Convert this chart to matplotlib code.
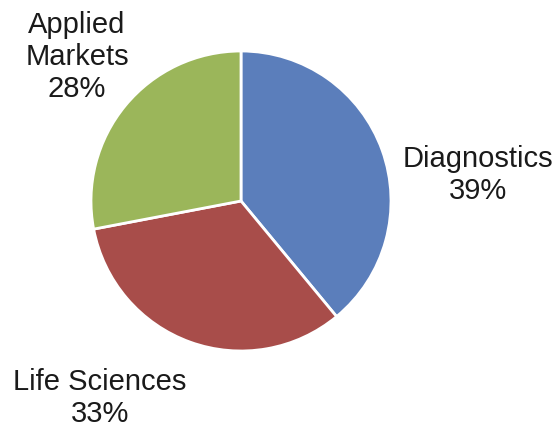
import matplotlib.pyplot as plt

# Revenue share by segment
segments = ['Diagnostics', 'Life Sciences', 'Applied Markets']
shares = [39, 33, 28]
label_text = ['Diagnostics\n39%', 'Life Sciences\n33%', 'Applied\nMarkets\n28%']
colors = ['#5B7EBB', '#A84D4A', '#9BB65A']

fig = plt.figure(figsize=(5.58, 4.27), dpi=100)
ax = fig.add_axes([0, 0, 1, 1])

ax.pie(shares, colors=colors, startangle=90, counterclock=False,
       center=(241, 225), radius=150, frame=True,
       wedgeprops=dict(edgecolor='white', linewidth=2))
ax.set_xlim(0, 558)
ax.set_ylim(0, 427)
ax.set_aspect('equal')
ax.axis('off')

# label positions in pixel-like coordinates
label_pos = [(478, 252), (100, 29), (77, 370)]
for txt, (x, y) in zip(label_text, label_pos):
    ax.text(x, y, txt, ha='center', va='center', fontsize=21,
            family='Liberation Sans', color='#1a1a1a', linespacing=1.2)

fig.savefig('out.png', dpi=100)
